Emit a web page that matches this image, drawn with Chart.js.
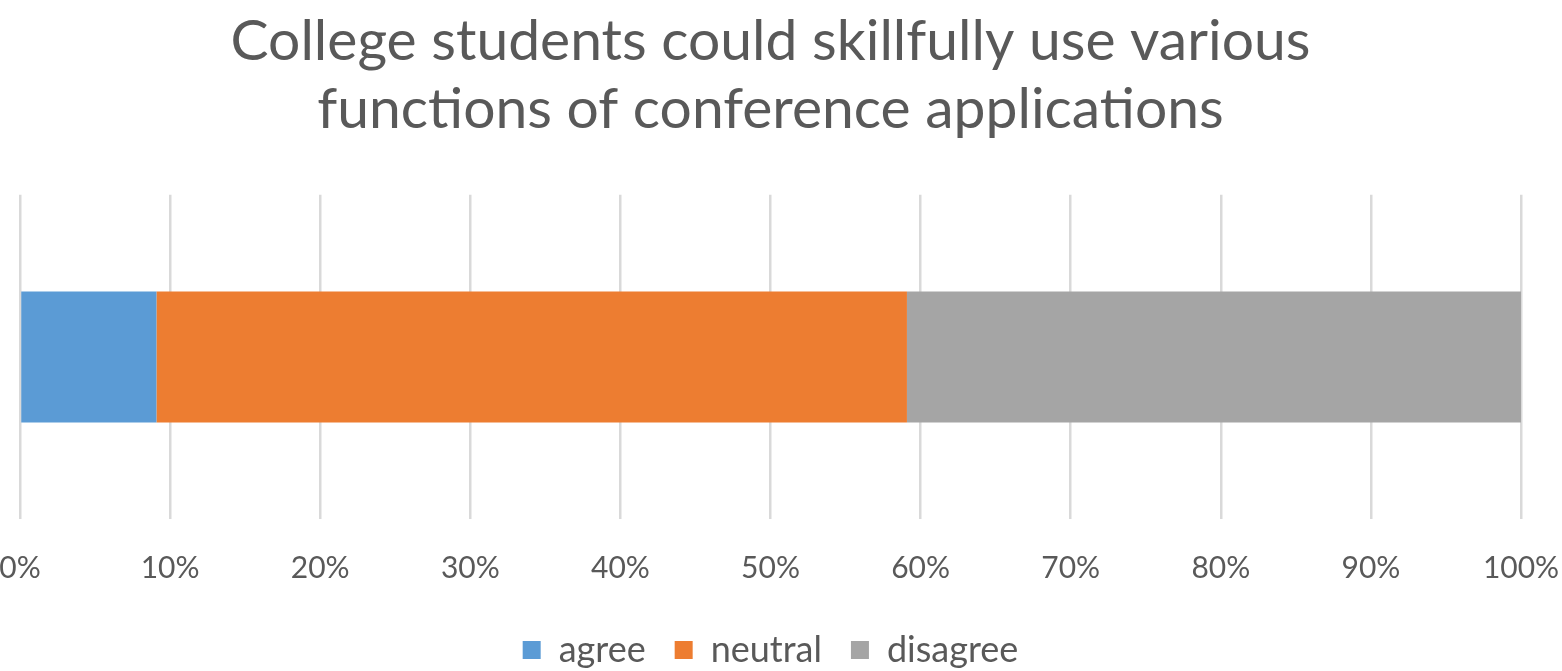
<!DOCTYPE html>
<html>
<head>
<meta charset="utf-8">
<script src="https://cdn.jsdelivr.net/npm/chart.js@4"></script>
<style>
  html, body { margin: 0; padding: 0; background: #fff; }
  #wrap { width: 1562px; height: 671px; }
</style>
</head>
<body>
<div id="wrap"><canvas id="myChart"></canvas></div>
<script>
var categories = [''];
var agree = [9.09];
var neutral = [50];
var disagree = [40.91];

document.addEventListener('DOMContentLoaded', function () {
    var ctx = document.getElementById('myChart');
    Chart.defaults.font.family = 'Lato, "Open Sans", sans-serif';
    Chart.defaults.color = '#595959';

    new Chart(ctx, {
        type: 'bar',
        data: {
            labels: categories,
            datasets: [
                { label: 'agree', data: agree, backgroundColor: '#5b9bd5' },
                { label: 'neutral', data: neutral, backgroundColor: '#ed7d31' },
                { label: 'disagree', data: disagree, backgroundColor: '#a5a5a5' }
            ]
        },
        options: {
            indexAxis: 'y',
            responsive: true,
            maintainAspectRatio: false,
            animation: false,
            layout: { padding: { top: 7, bottom: -7, left: 20, right: 41 } },
            datasets: {
                bar: { categoryPercentage: 1, barPercentage: 0.404 }
            },
            plugins: {
                title: {
                    display: true,
                    text: ['College students could skillfully use various', 'functions of conference applications'],
                    font: { size: 57, weight: 'normal' },
                    color: '#595959',
                    lineHeight: 1.18,
                    padding: { top: 0, bottom: 51 }
                },
                legend: {
                    position: 'bottom',
                    labels: {
                        font: { size: 36 },
                        color: '#595959',
                        boxWidth: 18,
                        boxHeight: 18,
                        padding: 29
                    }
                },
                tooltip: { enabled: false }
            },
            scales: {
                x: {
                    stacked: true,
                    min: 0,
                    max: 100,
                    border: { display: false },
                    grid: { color: '#d9d9d9', lineWidth: 2.5, drawTicks: false },
                    ticks: {
                        stepSize: 10,
                        padding: 31,
                        font: { size: 30 },
                        color: '#595959',
                        callback: function (value) { return value + '%'; }
                    },
                    afterFit: function (scale) {
                        // let the end labels hang past the plot like the original
                        scale.paddingLeft = 0;
                        scale.paddingRight = 0;
                        scale.height = 84;
                    }
                },
                y: {
                    display: false,
                    stacked: true
                }
            }
        }
    });
});
</script>
</body>
</html>
